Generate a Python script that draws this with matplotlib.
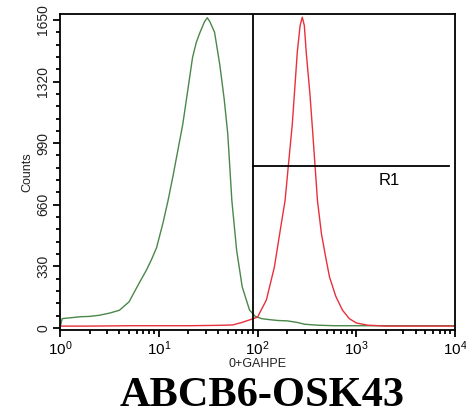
import matplotlib
matplotlib.use("Agg")
import matplotlib.pyplot as plt
from matplotlib.ticker import FixedLocator, LogLocator, NullFormatter

# histogram traces (FL channel value, counts)
green_x = [1.0, 1.05, 1.3, 1.6, 2.0, 2.5, 3.2, 4.0, 5.0, 6.4, 7.5, 8.5, 9.5, 11, 12.4, 14,
           17.5, 20, 22, 24, 26, 29, 31, 33, 36.7, 41.5, 46, 50, 55, 61.5, 70, 83, 95, 110, 130,
           160, 200, 250, 300, 400, 600, 1000, 2000, 5000, 10000]
green_y = [0, 50, 55, 60, 62, 68, 80, 95, 140, 245, 310, 370, 430, 560, 681, 820,
           1091, 1300, 1450, 1530, 1580, 1640, 1662, 1640, 1585, 1410, 1225, 1038, 681, 415, 220, 96, 62, 50, 45,
           40, 38, 30, 20, 15, 12, 12, 12, 12, 12]

red_x = [1, 2, 5, 10, 20, 40, 56, 70, 85, 100, 123, 148, 178, 190, 205, 225, 253, 270, 284, 298, 311,
         340, 362, 405, 444, 490, 536, 620, 724, 850, 1000, 1300, 2000, 5000, 10000]
red_y = [10, 10, 12, 12, 12, 14, 16, 30, 45, 58, 150, 325, 590, 681, 867, 1091, 1480, 1620, 1665, 1620, 1480,
         1250, 1050, 681, 505, 380, 273, 170, 96, 50, 27, 15, 10, 10, 10]

gate_x = 90          # R1 lower bound
gate_y = 867         # height of the R1 bar
gate_end = 8700
y_ticks = [0, 330, 660, 990, 1320, 1650]
x_ticks = [1, 10, 100, 1000, 10000]
x_labels = [r"$10^{0}$", r"$10^{1}$", r"$10^{2}$", r"$10^{3}$", r"$10^{4}$"]

plt.rcParams["font.family"] = ["Liberation Sans", "DejaVu Sans"]
plt.rcParams["mathtext.fontset"] = "custom"
plt.rcParams["mathtext.rm"] = "Liberation Sans"
plt.rcParams["mathtext.default"] = "regular"

fig = plt.figure(figsize=(4.66, 4.16), dpi=100)
ax = fig.add_axes([0.1288, 0.2067, 0.8476, 0.7596])

ax.plot(green_x, green_y, color="#4a874a", lw=1.0)
ax.plot(red_x, red_y, color="#e8303a", lw=1.0)

ax.set_xscale("log")
ax.set_xlim(1, 10000)
ax.set_ylim(-11, 1682)

ax.axvline(gate_x, color="black", lw=1.3)
ax.plot([gate_x, gate_end], [gate_y, gate_y], color="black", lw=1.3)
ax.text(2150, 790, "R1", fontsize=12, ha="center", va="center")

ax.yaxis.set_major_locator(FixedLocator(y_ticks))
ax.yaxis.set_minor_locator(FixedLocator(list(range(0, 1651, 66))))
ax.set_yticklabels([str(v) for v in y_ticks], rotation=90, va="center", fontsize=10, color="#222222")
ax.set_xticks(x_ticks)
ax.set_xticklabels(x_labels, fontsize=11)
ax.xaxis.set_minor_locator(LogLocator(base=10, subs=range(2, 10)))
ax.xaxis.set_minor_formatter(NullFormatter())

ax.tick_params(which="major", length=5, width=1.3, pad=2)
ax.tick_params(which="minor", length=3, width=1.3)
for s in ax.spines.values():
    s.set_linewidth(1.3)

ax.set_xlabel("0+GAHPE", fontsize=9, labelpad=0, color="#222222")
ax.set_ylabel("Counts", fontsize=9, labelpad=2, color="#222222")

fig.text(0.562, 0.025, "ABCB6-OSK43", ha="center", va="baseline",
         fontsize=30.5, fontweight="bold", family="Liberation Serif")

fig.savefig("out.png", dpi=100)
